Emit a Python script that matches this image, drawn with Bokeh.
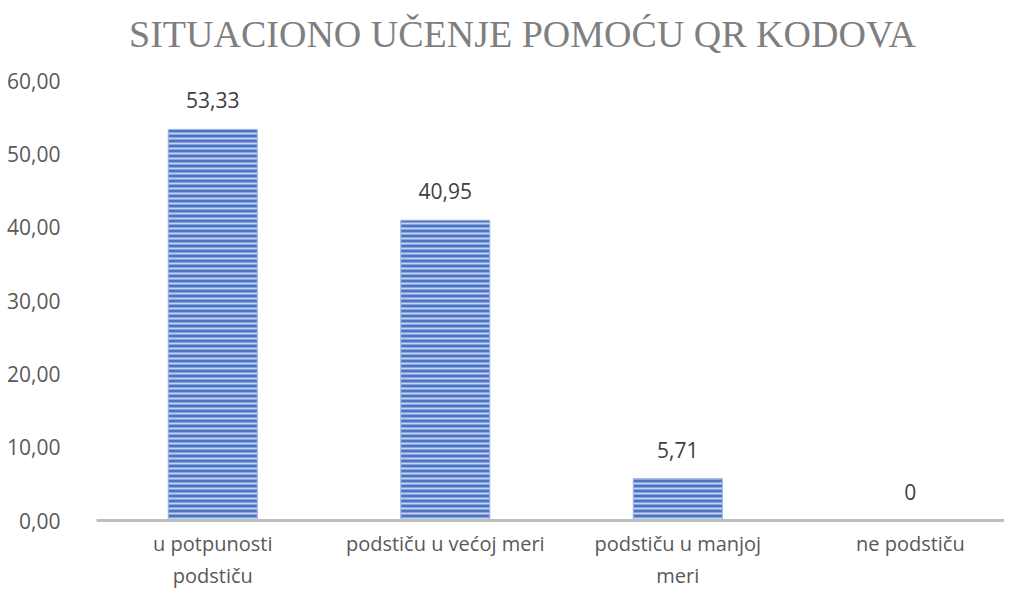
from bokeh.plotting import figure
from bokeh.models import Range1d, FixedTicker, ColumnDataSource, Label
from bokeh.core.properties import value
from bokeh.embed import file_html
from bokeh.resources import INLINE

categories = ["u potpunosti\npodstiču", "podstiču u većoj meri", "podstiču u manjoj\nmeri", "ne podstiču"]
values = [53.33, 40.95, 5.71, 0]
value_labels = ["53,33", "40,95", "5,71", "0"]
y_ticks = [0, 10, 20, 30, 40, 50, 60]
y_tick_labels = ["0,00", "10,00", "20,00", "30,00", "40,00", "50,00", "60,00"]
title_text = "SITUACIONO UČENJE POMOĆU QR KODOVA"

xs = list(range(len(categories)))
src = ColumnDataSource(dict(x=xs, top=values, lab=value_labels))

# frame spans y=10..520 px; 60 sits at y=80 px
y_max = 60 * 510 / 440
p = figure(width=1004, height=591, output_backend="svg", toolbar_location=None,
           x_range=Range1d(-0.5, 3.405), y_range=Range1d(0, y_max),
           min_border_left=96, min_border_right=0, min_border_top=10, min_border_bottom=71)
p.outline_line_color = None
p.xgrid.grid_line_color = None
p.ygrid.grid_line_color = None

p.vbar(x="x", top="top", width=0.383, bottom=0, source=src,
       fill_color="#4a74c6", line_color="#9fb6e3", line_width=1,
       hatch_pattern="horizontal_line", hatch_color="#c6d4ef",
       hatch_scale=5, hatch_weight=2)

p.text(x="x", y="top", text="lab", source=src, text_align="center",
       text_baseline="bottom", y_offset=-21, text_font=value("Open Sans"),
       text_font_size="21px", text_color="#404040")

title = Label(x=1.332, y=60 + 47 / (440 / 60), text=title_text, text_align="center",
              text_baseline="middle", text_font="Liberation Serif",
              text_font_size="38px", text_color="#7f7f7f")
p.add_layout(title)

p.xaxis.ticker = FixedTicker(ticks=xs)
p.xaxis.major_label_overrides = {i: c for i, c in enumerate(categories)}
p.xaxis.axis_line_color = "#bfbfbf"
p.xaxis.axis_line_width = 3
p.xaxis.major_tick_line_color = None
p.xaxis.minor_tick_line_color = None
p.xaxis.major_label_text_font = "Open Sans"
p.xaxis.major_label_text_font_size = "20px"
p.xaxis.major_label_text_color = "#595959"
p.xaxis.major_label_standoff = 3

p.yaxis.ticker = FixedTicker(ticks=y_ticks)
p.yaxis.major_label_overrides = {t: l for t, l in zip(y_ticks, y_tick_labels)}
p.yaxis.axis_line_color = None
p.yaxis.major_tick_line_color = None
p.yaxis.minor_tick_line_color = None
p.yaxis.major_label_text_font = "Open Sans"
p.yaxis.major_label_text_font_size = "21px"
p.yaxis.major_label_text_color = "#595959"
p.yaxis.major_label_standoff = 30

open("out.html", "w").write(file_html(p, INLINE))
